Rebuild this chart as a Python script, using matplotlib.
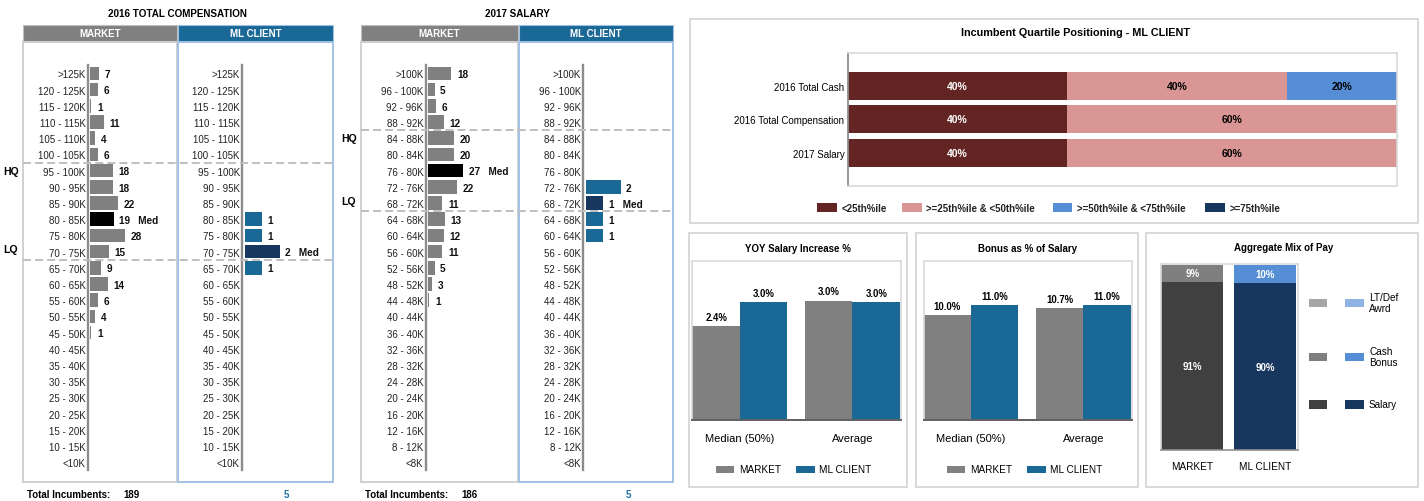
import matplotlib
matplotlib.use("Agg")
import matplotlib.pyplot as plt
from matplotlib.patches import Rectangle

plt.rcParams['font.family'] = ['Liberation Sans', 'DejaVu Sans']

# ---------------- DATA ----------------
tc_bins = [">125K", "120 - 125K", "115 - 120K", "110 - 115K", "105 - 110K", "100 - 105K",
           "95 - 100K", "90 - 95K", "85 - 90K", "80 - 85K", "75 - 80K", "70 - 75K",
           "65 - 70K", "60 - 65K", "55 - 60K", "50 - 55K", "45 - 50K", "40 - 45K",
           "35 - 40K", "30 - 35K", "25 - 30K", "20 - 25K", "15 - 20K", "10 - 15K", "<10K"]
tc_market = [7, 6, 1, 11, 4, 6, 18, 18, 22, 19, 28, 15, 9, 14, 6, 4, 1, 0, 0, 0, 0, 0, 0, 0, 0]
tc_client = [0, 0, 0, 0, 0, 0, 0, 0, 0, 1, 1, 2, 1, 0, 0, 0, 0, 0, 0, 0, 0, 0, 0, 0, 0]
tc_market_med = "80 - 85K"
tc_client_med = "70 - 75K"
tc_hq = "95 - 100K"
tc_lq = "70 - 75K"

sal_bins = [">100K", "96 - 100K", "92 - 96K", "88 - 92K", "84 - 88K", "80 - 84K", "76 - 80K",
            "72 - 76K", "68 - 72K", "64 - 68K", "60 - 64K", "56 - 60K", "52 - 56K", "48 - 52K",
            "44 - 48K", "40 - 44K", "36 - 40K", "32 - 36K", "28 - 32K", "24 - 28K", "20 - 24K",
            "16 - 20K", "12 - 16K", "8 - 12K", "<8K"]
sal_market = [18, 5, 6, 12, 20, 20, 27, 22, 11, 13, 12, 11, 5, 3, 1, 0, 0, 0, 0, 0, 0, 0, 0, 0, 0]
sal_client = [0, 0, 0, 0, 0, 0, 0, 2, 1, 1, 1, 0, 0, 0, 0, 0, 0, 0, 0, 0, 0, 0, 0, 0, 0]
sal_market_med = "76 - 80K"
sal_client_med = "68 - 72K"
sal_hq = "84 - 88K"
sal_lq = "68 - 72K"

q_cats = ["2016 Total Cash", "2016 Total Compensation", "2017 Salary"]
q_series = ["<25th%ile", ">=25th%ile & <50th%ile", ">=50th%ile & <75th%ile", ">=75th%ile"]
q_lt25 = [40, 40, 40]
q_25_50 = [40, 60, 60]
q_50_75 = [20, 0, 0]
q_gt75 = [0, 0, 0]

stat_groups = ["Median (50%)", "Average"]
yoy_market = [2.4, 3.04]
yoy_client = [3.0, 3.0]
bonus_market = [10.0, 10.7]
bonus_client = [11.0, 11.0]

mix_groups = ["MARKET", "ML CLIENT"]
mix_components = ["Salary", "Cash\nBonus", "LT/Def\nAwrd"]
mix_market = [91, 9, 0]
mix_client = [90, 10, 0]

# ---------------- STYLE ----------------
GRAY = '#808080'
BLUE = '#1a6896'
NAVY = '#17375e'
MAROON = '#632523'
PINK = '#d99694'
LBLUE = '#558ed5'
FRAME = '#d9d9d9'
q_colors = [MAROON, PINK, LBLUE, NAVY]
q_tcolors = ['white', 'black', 'black', 'white']
mix_cmarket = ['#404040', '#7f7f7f', '#a6a6a6']
mix_cclient = [NAVY, LBLUE, '#8eb4e3']

W, H = 1424, 502
fig = plt.figure(figsize=(W / 100, H / 100), dpi=100)


def rect_px(x0, y0, x1, y1):
    return [x0 / W, 1 - y1 / H, (x1 - x0) / W, (y1 - y0) / H]


def box(x0, y0, x1, y1, ec='none', lw=1.0, fc='none', z=1):
    r = Rectangle((x0 / W, 1 - y1 / H), (x1 - x0) / W, (y1 - y0) / H,
                  transform=fig.transFigure, fc=fc, ec=ec, lw=lw, zorder=z)
    fig.add_artist(r)


def ftext(x, y, s, **kw):
    fig.text(x / W, 1 - y / H, s, **kw)


ROW_TOP, ROW_BOT = 66.4, 471.2


def hist(axis_x, right_x, bins, vals, med, color, medcolor):
    ax = fig.add_axes(rect_px(axis_x, ROW_TOP, right_x, ROW_BOT))
    ax.patch.set_alpha(0)
    ppu = 35.0 / max(vals)
    wpx = right_x - axis_x
    ax.set_xlim(-2.3 / ppu, (wpx - 2.3) / ppu)
    ax.set_ylim(len(bins) - 0.5, -0.5)
    ypos = list(range(len(bins)))
    mi = bins.index(med)
    cols = [medcolor if i == mi else color for i in ypos]
    ax.barh(ypos, vals, height=0.84, color=cols)
    for i, v in enumerate(vals):
        if v > 0:
            s = f"{v}   Med" if i == mi else f"{v}"
            ax.annotate(s, (v, i), xytext=(4, -0.5), textcoords='offset points',
                        ha='left', va='center', fontsize=7.2, fontweight='bold', color='#111111')
    ax.set_yticks(ypos, bins)
    ax.set_xticks([])
    ax.tick_params(axis='y', length=0, pad=1.6, labelsize=7, labelcolor='#222222')
    for s in ['top', 'right', 'bottom']:
        ax.spines[s].set_visible(False)
    ax.spines['left'].set_color('#8c8c8c')
    ax.spines['left'].set_linewidth(1.7)
    return ax


def hist_block(title, x_frame_l, x_mid_l, x_mid_r, x_frame_r, axis_m, axis_c,
               bins, market, client, mmed, cmed, hq, lq, hq_x, tot_x, tot5_x):
    cx = (x_frame_l + x_frame_r) / 2
    ftext(cx, 14, title, ha='center', va='center', fontsize=7.1, fontweight='bold')
    # headers
    box(x_frame_l, 26, x_mid_l, 43, fc=GRAY, ec='#bfbfbf', lw=0.8)
    box(x_mid_r, 26, x_frame_r, 43, fc=BLUE, ec='#9dbfe3', lw=0.8)
    ftext((x_frame_l + x_mid_l) / 2, 34.5, "MARKET", ha='center', va='center',
          color='white', fontsize=7, fontweight='bold')
    ftext((x_mid_r + x_frame_r) / 2, 34.5, "ML CLIENT", ha='center', va='center',
          color='white', fontsize=7, fontweight='bold')
    # frames
    box(x_frame_l, 43, x_mid_l, 483.3, ec='#d0d0d0', lw=1.4)
    box(x_mid_r, 43, x_frame_r, 483.3, ec='#a3c2e4', lw=1.4)
    hist(axis_m, x_mid_l, bins, market, mmed, GRAY, 'black')
    hist(axis_c, x_frame_r, bins, client, cmed, BLUE, NAVY)
    # quartile reference lines
    ov = fig.add_axes(rect_px(0, ROW_TOP, x_frame_r, ROW_BOT), zorder=5)
    ov.patch.set_alpha(0)
    ov.set_xlim(0, x_frame_r)
    ov.set_ylim(len(bins) - 0.5, -0.5)
    ov.axis('off')
    hi, li = bins.index(hq), bins.index(lq)
    ov.hlines([hi - 0.5, li + 0.5], x_frame_l, x_frame_r, colors='#bfbfbf',
              linestyles=(0, (4.1, 2.1)), lw=1.4)
    ov.text(hq_x, hi, "HQ", ha='center', va='center', fontsize=7.6, fontweight='bold')
    ov.text(hq_x, li - 0.15, "LQ", ha='center', va='center', fontsize=7.6, fontweight='bold')
    # totals
    ftext(x_frame_l + 4.2, 495, "Total Incumbents:", ha='left', va='center',
          fontsize=7, fontweight='bold')
    ftext(tot_x, 495, f"{sum(market)}", ha='center', va='center', fontsize=7, fontweight='bold')
    ftext(tot5_x, 495, f"{sum(client)}", ha='center', va='center', fontsize=7,
          fontweight='bold', color='#1f6fa5')


hist_block("2016 TOTAL COMPENSATION", 22.7, 176.7, 178.3, 332.7, 87.8, 242.2,
           tc_bins, tc_market, tc_client, tc_market_med, tc_client_med, tc_hq, tc_lq,
           10.7, 131.3, 286.7)
hist_block("2017 SALARY", 361, 517.7, 519.3, 673.3, 425.8, 583.2,
           sal_bins, sal_market, sal_client, sal_market_med, sal_client_med, sal_hq, sal_lq,
           349, 469.7, 628.3)

# ---------------- QUARTILE POSITIONING ----------------
box(690, 20, 1418.3, 224, ec=FRAME, lw=1.4)
ftext(1075.5, 33.3, "Incumbent Quartile Positioning - ML CLIENT", ha='center', va='center',
      fontsize=7.8, fontweight='bold')
axq = fig.add_axes(rect_px(847.5, 54, 1396.7, 187.3))
axq.set_xlim(0, 100)
axq.set_ylim(3.0, -0.97)
q_data = [q_lt25, q_25_50, q_50_75, q_gt75]
cum = [0, 0, 0]
for k, seg in enumerate(q_data):
    axq.barh(range(len(q_cats)), seg, left=cum, height=0.83, color=q_colors[k])
    for i, v in enumerate(seg):
        if v > 0:
            axq.text(cum[i] + v / 2, i, f"{v}%", ha='center', va='center',
                     color=q_tcolors[k], fontsize=7.5, fontweight='bold')
    cum = [c + v for c, v in zip(cum, seg)]
axq.set_yticks(range(len(q_cats)), q_cats)
axq.set_xticks([])
axq.tick_params(axis='y', length=0, pad=2.2, labelsize=7)
for s in ['top', 'right', 'bottom']:
    axq.spines[s].set_color(FRAME)
    axq.spines[s].set_linewidth(1.2)
axq.spines['left'].set_color('#8c8c8c')
axq.spines['left'].set_linewidth(1.3)
for x0, lab, col in zip([817.3, 902.3, 1052.7, 1205.3], q_series, q_colors):
    box(x0, 204.3, x0 + 19.4, 212.7, fc=col, z=2)
    ftext(x0 + 24.2, 208.5, lab, ha='left', va='center', fontsize=7, fontweight='bold',
          color='#222222')


# ---------------- GROUPED BAR PANELS ----------------
def grouped(frame, title, title_x, plot, ymax, market, client, leg_x):
    x0, x1 = frame
    box(x0, 234, x1, 487.7, ec=FRAME, lw=1.4)
    ftext(title_x, 248.8, title, ha='center', va='center', fontsize=7, fontweight='bold')
    ax = fig.add_axes(rect_px(plot[0], 262.3, plot[1], 421))
    w = 0.422
    g = list(range(len(stat_groups)))
    ax.bar([i - w / 2 for i in g], market, width=w, color=GRAY)
    ax.bar([i + w / 2 for i in g], client, width=w, color=BLUE)
    for i in g:
        for xx, v in ((i - w / 2, market[i]), (i + w / 2, client[i])):
            ax.annotate(f"{v:.1f}%", (xx, v), xytext=(0, 3), textcoords='offset points',
                        ha='center', va='bottom', fontsize=6.9, fontweight='bold')
    ax.set_xlim(-w, 1 + w + 0.009)
    ax.set_ylim(0, ymax)
    ax.set_yticks([])
    ax.set_xticks(g, stat_groups)
    ax.tick_params(axis='x', length=0, pad=9.5, labelsize=8)
    for s in ['top', 'left', 'right']:
        ax.spines[s].set_color(FRAME)
        ax.spines[s].set_linewidth(1.2)
    ax.spines['bottom'].set_color('#606060')
    ax.spines['bottom'].set_linewidth(1.4)
    box(leg_x, 466.7, leg_x + 18.3, 474.3, fc=GRAY, z=2)
    ftext(leg_x + 23.3, 470.5, "MARKET", ha='left', va='center', fontsize=7.2)
    box(leg_x + 80, 466.7, leg_x + 99, 474.3, fc=BLUE, z=2)
    ftext(leg_x + 103.3, 470.5, "ML CLIENT", ha='left', va='center', fontsize=7.2)
    return ax


grouped((689, 907), "YOY Salary Increase %", 797.7, (692.3, 901), 4.04,
        yoy_market, yoy_client, 716)
grouped((915.7, 1138.3), "Bonus as % of Salary", 1028, (923.7, 1131.7), 15.17,
        bonus_market, bonus_client, 946.7)

# ---------------- AGGREGATE MIX OF PAY ----------------
box(1146, 234, 1418, 487.7, ec=FRAME, lw=1.4)
ftext(1284, 248.5, "Aggregate Mix of Pay", ha='center', va='center', fontsize=7, fontweight='bold')
axm = fig.add_axes(rect_px(1160.7, 265, 1297.7, 450.7))
axm.set_xlim(-0.433, 1.444)
axm.set_ylim(0, 100.5)
for gi, (vals, cols) in enumerate(((mix_market, mix_cmarket), (mix_client, mix_cclient))):
    bottom = 0
    for v, c in zip(vals, cols):
        axm.bar(gi, v, bottom=bottom, width=0.85, color=c)
        if v > 0:
            axm.text(gi, bottom + v / 2, f"{v}%", ha='center', va='center', color='white',
                     fontsize=7, fontweight='bold')
        bottom += v
axm.set_xticks(range(len(mix_groups)), mix_groups)
axm.set_yticks([])
axm.tick_params(axis='x', length=0, pad=8.3, labelsize=7.2)
for s in ['top', 'left', 'right']:
    axm.spines[s].set_color(FRAME)
    axm.spines[s].set_linewidth(1.2)
axm.spines['bottom'].set_color('#909090')
axm.spines['bottom'].set_linewidth(1.2)
for comp, yc, cm, cc in zip(mix_components, [405.5, 358, 304], mix_cmarket, mix_cclient):
    box(1309, yc - 4.2, 1327.3, yc + 4.2, fc=cm, z=2)
    box(1345, yc - 4.2, 1364, yc + 4.2, fc=cc, z=2)
    ftext(1369, yc - 0.5, comp, ha='left', va='center', fontsize=7.2, linespacing=1.13)

fig.savefig("out.png", dpi=100)
